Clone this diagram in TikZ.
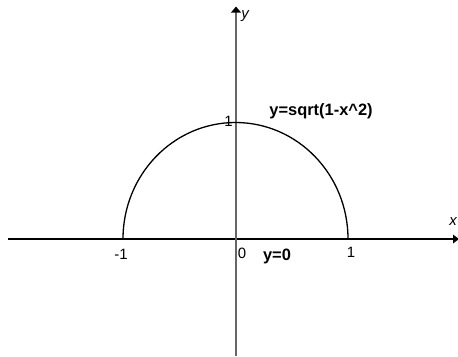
\documentclass[tikz,border=0pt]{standalone}
\usepackage{fontspec}
\setmainfont{Liberation Sans}
\usetikzlibrary{arrows.meta}
\begin{document}
\begin{tikzpicture}[x=1bp,y=-1bp,
  tick/.style={font=\fontsize{15}{15}\selectfont, inner sep=0pt},
  axlab/.style={font=\fontsize{15}{15}\selectfont\itshape, inner sep=0pt},
  eqlab/.style={font=\fontsize{16.5}{16.5}\selectfont\bfseries, inner sep=0pt}]
\useasboundingbox (0,0) rectangle (458,356);
% axes
\coordinate (xl) at (8,239);
\coordinate (xr) at (459,239);
\coordinate (yb) at (236,356);
\coordinate (yt) at (236,12);
\draw[line width=1.6bp] (xl) -- (xr) -- ++(-5,0);
\fill (459,239) -- (453,234.5) -- (453,243.5) -- cycle;
\draw[gray!80!black, line width=1.3bp] (yb) -- (yt);
\fill (236,6.5) -- (231,12.5) -- (241,12.5) -- cycle;
% semicircle
\draw[line width=1.3bp] (123,239) arc[start angle=180, end angle=360, x radius=112.5, y radius=116.5];
% labels
\node[tick] (m1) at (121,254) {-1};
\node[tick] (zero) at (242,253) {0};
\node[tick] (one) at (351,252) {1};
\node[tick] (oneY) at (228.5,121) {1};
\node[axlab] (xlab) at (453,222) {x};
\node[axlab] (ylab) at (245,16) {y};
\node[eqlab] (eq) at (321,111) {y=sqrt(1-x\^{}2)};
\node[eqlab] (eq0) at (277,256) {y=0};
\end{tikzpicture}
\end{document}
